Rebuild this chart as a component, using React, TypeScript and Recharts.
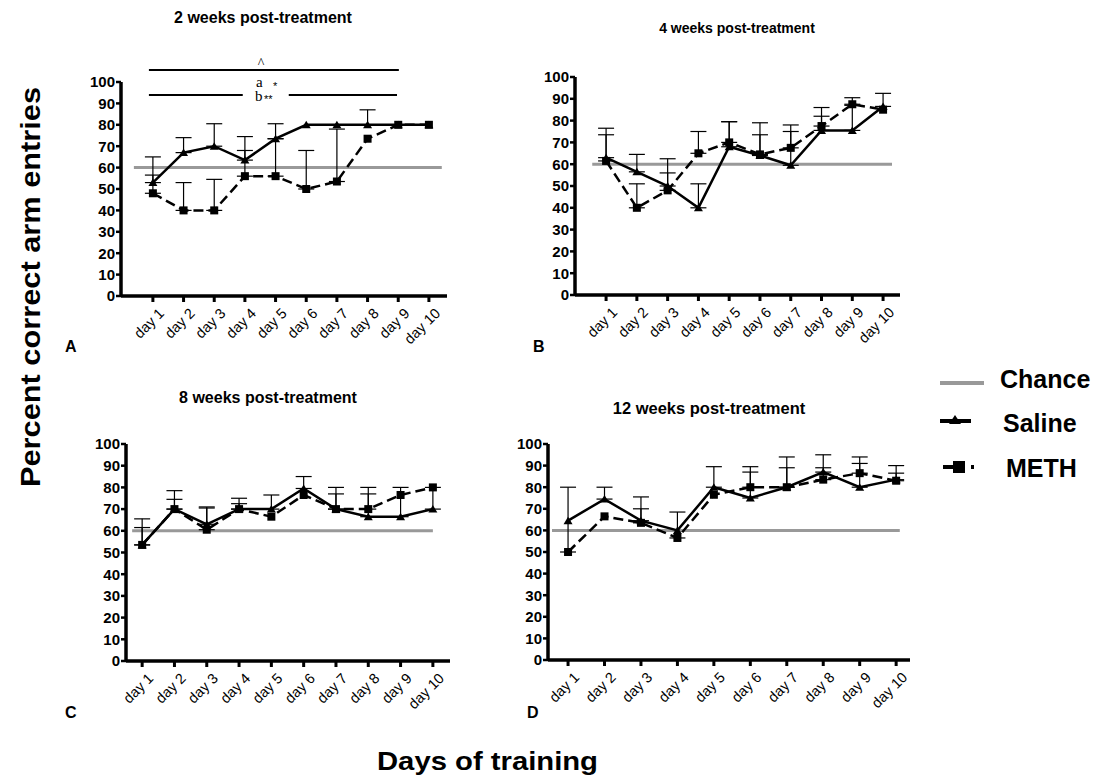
import React from 'react'
import {
  LineChart, Line, XAxis, YAxis, ErrorBar, ReferenceLine,
} from 'recharts'

const FONT = '"Liberation Sans", Arial, sans-serif'
const SERIF = '"Liberation Serif", serif'

// training days shown on every panel
const days = [1, 2, 3, 4, 5, 6, 7, 8, 9, 10]
const dayLabels = ['day 1', 'day 2', 'day 3', 'day 4', 'day 5', 'day 6', 'day 7', 'day 8', 'day 9', 'day 10']
const yTicks = [0, 10, 20, 30, 40, 50, 60, 70, 80, 90, 100]
const chanceLevel = 60

// means and top of the (upward only) error bars
const salineA = [53, 67, 70, 63.5, 73.5, 80, 80, 80, 80, 80]
const salineTopA = [65, 74, 80.5, 74.5, 80.5, null, null, 87, null, null]
const methA = [48, 40, 40, 56, 56, 50, 53.5, 73.5, 80, 80]
const methTopA = [56.5, 53, 54.5, 68, 73.5, 68, 78, null, null, null]

const salineB = [63, 56.5, 50, 40, 68, 64, 59.5, 75.5, 75.5, 86.5]
const salineTopB = [76.5, 64.5, 62.5, 51, 79.5, 79, 78, 86, 87, 92.5]
const methB = [61.5, 40, 48, 65, 70, 64.5, 67.5, 77.5, 87.5, 85]
const methTopB = [73.5, 51, 56, 75, 79.5, 73.5, 75, 82, 90.5, null]

const salineC = [53.5, 70, 63, 70, 70, 79.5, 70, 66.5, 66.5, 70]
const salineTopC = [65.5, 78.5, 71, 75, 76.5, 85, 80, 80, 80, 80]
const methC = [53.5, 70, 60.5, 70, 66.5, 76.5, 70, 70, 76.5, 80]
const methTopC = [61.5, 74.5, 70.5, 72.5, null, null, 77, 77, null, null]

const salineD = [64.5, 74.5, 64.5, 60, 80, 75, 80, 87, 80, 83.5]
const salineTopD = [null, 80, 75.5, null, 89.5, 89.5, 94, 95, 94, 90]
const methD = [50, 66.5, 63.5, 56.5, 76.5, 80, 80, 83.5, 86.5, 83]
const methTopD = [80, null, 70, 68.5, null, 87, 89, 89, 91, 86.5]

// significance bars over panel A (x in days, y in percent)
const sigTopBar = [0.87, 9.02]
const sigTopY = 105.6
const sigLowBars = [[0.87, 3.93], [5.43, 8.96]]
const sigLowY = 93.9

function buildRows(sal: number[], salTop: (number | null)[], meth: number[], methTop: (number | null)[]) {
  return days.map((d, i) => ({
    day: d,
    saline: sal[i],
    salineErr: salTop[i] == null ? null : [0, (salTop[i] as number) - sal[i]],
    meth: meth[i],
    methErr: methTop[i] == null ? null : [0, (methTop[i] as number) - meth[i]],
  }))
}

// eslint-disable-next-line @typescript-eslint/no-explicit-any
function TriangleDot(props: any) {
  const { cx, cy, index } = props
  if (cx == null || cy == null) return null
  return <polygon key={`t${index}`} points={`${cx - 4.5},${cy + 3.5} ${cx + 4.5},${cy + 3.5} ${cx},${cy - 4}`} fill="#000" />
}

// eslint-disable-next-line @typescript-eslint/no-explicit-any
function SquareDot(props: any) {
  const { cx, cy, index } = props
  if (cx == null || cy == null) return null
  return <rect key={`s${index}`} x={cx - 4} y={cy - 4} width={8} height={8} fill="#000" />
}

// eslint-disable-next-line @typescript-eslint/no-explicit-any
function DayTick({ x, y, payload }: any) {
  const label = dayLabels[days.indexOf(payload.value)] ?? ''
  return (
    <g transform={`translate(${x + 5},${y + 3}) rotate(-45)`}>
      <text textAnchor="end" dy="0.7em" fontSize={14.5} fontFamily={FONT} fill="#000">{label}</text>
    </g>
  )
}

interface PanelProps {
  rows: ReturnType<typeof buildRows>
  left: number
  top: number
  bottom: number
  right: number
  xDomain: [number, number]
  chance: [number, number]
  withSig?: boolean
}

function Panel({ rows, left, top, bottom, right, xDomain, chance, withSig }: PanelProps) {
  const mTop = 40
  const yw = 50
  const xh = 70
  const width = yw + (right - left) + 10
  const height = mTop + (bottom - top) + xh
  const axisStroke = { stroke: '#000', strokeWidth: 3.5 }
  return (
    <div style={{ position: 'absolute', left: left - yw, top: top - mTop }}>
      <LineChart width={width} height={height} data={rows} margin={{ top: mTop, right: 10, left: 0, bottom: 0 }}>
        <XAxis
          dataKey="day"
          type="number"
          domain={xDomain}
          allowDataOverflow
          ticks={days}
          height={xh}
          axisLine={axisStroke}
          tickLine={{ stroke: '#000', strokeWidth: 3 }}
          tickSize={6}
          tick={<DayTick />}
          interval={0}
        />
        <YAxis
          type="number"
          domain={[0, 100]}
          ticks={yTicks}
          width={yw}
          axisLine={axisStroke}
          tickLine={{ stroke: '#000', strokeWidth: 2.5 }}
          tickSize={5}
          tickMargin={1}
          interval={0}
          tick={{ fill: '#000', fontSize: 15, fontWeight: 700, fontFamily: FONT }}
        />
        <ReferenceLine
          segment={[{ x: chance[0], y: chanceLevel }, { x: chance[1], y: chanceLevel }]}
          stroke="#999"
          strokeWidth={3}
        />
        {withSig && (
          <ReferenceLine
            segment={[{ x: sigTopBar[0], y: sigTopY }, { x: sigTopBar[1], y: sigTopY }]}
            stroke="#000" strokeWidth={2} ifOverflow="visible"
          />
        )}
        {withSig && sigLowBars.map((b, i) => (
          <ReferenceLine
            key={i}
            segment={[{ x: b[0], y: sigLowY }, { x: b[1], y: sigLowY }]}
            stroke="#000" strokeWidth={2} ifOverflow="visible"
          />
        ))}
        <Line
          dataKey="meth"
          stroke="#000"
          strokeWidth={2.5}
          strokeDasharray="10 5"
          dot={(p: any) => <SquareDot {...p} key={`m${p.index}`} />}
          isAnimationActive={false}
        >
          <ErrorBar dataKey="methErr" width={8} stroke="#000" strokeWidth={1.2} direction="y" />
        </Line>
        <Line
          dataKey="saline"
          stroke="#000"
          strokeWidth={2.5}
          dot={(p: any) => <TriangleDot {...p} key={`s${p.index}`} />}
          isAnimationActive={false}
        >
          <ErrorBar dataKey="salineErr" width={8} stroke="#000" strokeWidth={1.2} direction="y" />
        </Line>
      </LineChart>
    </div>
  )
}

export default function App() {
  const rowsA = buildRows(salineA, salineTopA, methA, methTopA)
  const rowsB = buildRows(salineB, salineTopB, methB, methTopB)
  const rowsC = buildRows(salineC, salineTopC, methC, methTopC)
  const rowsD = buildRows(salineD, salineTopD, methD, methTopD)
  const t = { fontFamily: FONT, fontWeight: 700, fill: '#000' }
  return (
    <div style={{ position: 'absolute', left: 0, top: 0, width: 1101, height: 780, background: '#fff', overflow: 'hidden' }}>
      <svg width={1101} height={780} style={{ position: 'absolute', left: 0, top: 0 }}>
        <text x={263} y={23} textAnchor="middle" fontSize={16} {...t}>2 weeks post-treatment</text>
        <text x={737} y={33} textAnchor="middle" fontSize={14} {...t}>4 weeks post-treatment</text>
        <text x={268} y={403} textAnchor="middle" fontSize={16} {...t}>8 weeks post-treatment</text>
        <text x={709} y={414} textAnchor="middle" fontSize={16.5} {...t}>12 weeks post-treatment</text>

        <text x={65} y={352} fontSize={16} {...t}>A</text>
        <text x={533} y={352} fontSize={16} {...t}>B</text>
        <text x={65} y={718} fontSize={16} {...t}>C</text>
        <text x={527} y={718} fontSize={16} {...t}>D</text>

        <text transform="translate(40,487) rotate(-90)" fontSize={27} textLength={400} lengthAdjust="spacingAndGlyphs" {...t}>
          Percent correct arm entries
        </text>
        <text x={377} y={770} fontSize={26} textLength={221} lengthAdjust="spacingAndGlyphs" {...t}>Days of training</text>

        <text x={261} y={68} textAnchor="middle" fontSize={14} fontFamily={SERIF} fill="#000">^</text>
        <text x={256} y={87} fontSize={15} fontFamily={SERIF} fill="#000">a</text>
        <text x={273} y={90} fontSize={11} fontFamily={FONT} fill="#000">*</text>
        <text x={255} y={101} fontSize={15} fontFamily={SERIF} fill="#000">b</text>
        <text x={264} y={103} fontSize={11} fontFamily={FONT} fill="#000">**</text>

        <line x1={940} y1={383} x2={984} y2={383} stroke="#999" strokeWidth={4} />
        <text x={1000} y={388} fontSize={25} {...t}>Chance</text>
        <line x1={940} y1={421} x2={971} y2={421} stroke="#000" strokeWidth={4} />
        <polygon points="949,424 961,424 955,415" fill="#000" />
        <text x={1003} y={432} fontSize={25} {...t}>Saline</text>
        <line x1={943} y1={467} x2={953} y2={467} stroke="#000" strokeWidth={4} />
        <rect x={953} y={461} width={12} height={12} fill="#000" />
        <rect x={971} y={465} width={3} height={4} fill="#000" />
        <text x={1006} y={477} fontSize={25} {...t}>METH</text>
      </svg>

      <Panel rows={rowsA} left={121} top={82} bottom={296} right={447} xDomain={[-0.04, 10.59]} chance={[0.38, 10.42]} withSig />
      <Panel rows={rowsB} left={575} top={77} bottom={295} right={900} xDomain={[-0.01, 10.55]} chance={[0.55, 10.29]} />
      <Panel rows={rowsC} left={126} top={444} bottom={661} right={450} xDomain={[0.5, 10.53]} chance={[0.69, 10.0]} />
      <Panel rows={rowsD} left={548} top={444} bottom={660} right={910} xDomain={[0.45, 10.38]} chance={[0.56, 10.1]} />
    </div>
  )
}
